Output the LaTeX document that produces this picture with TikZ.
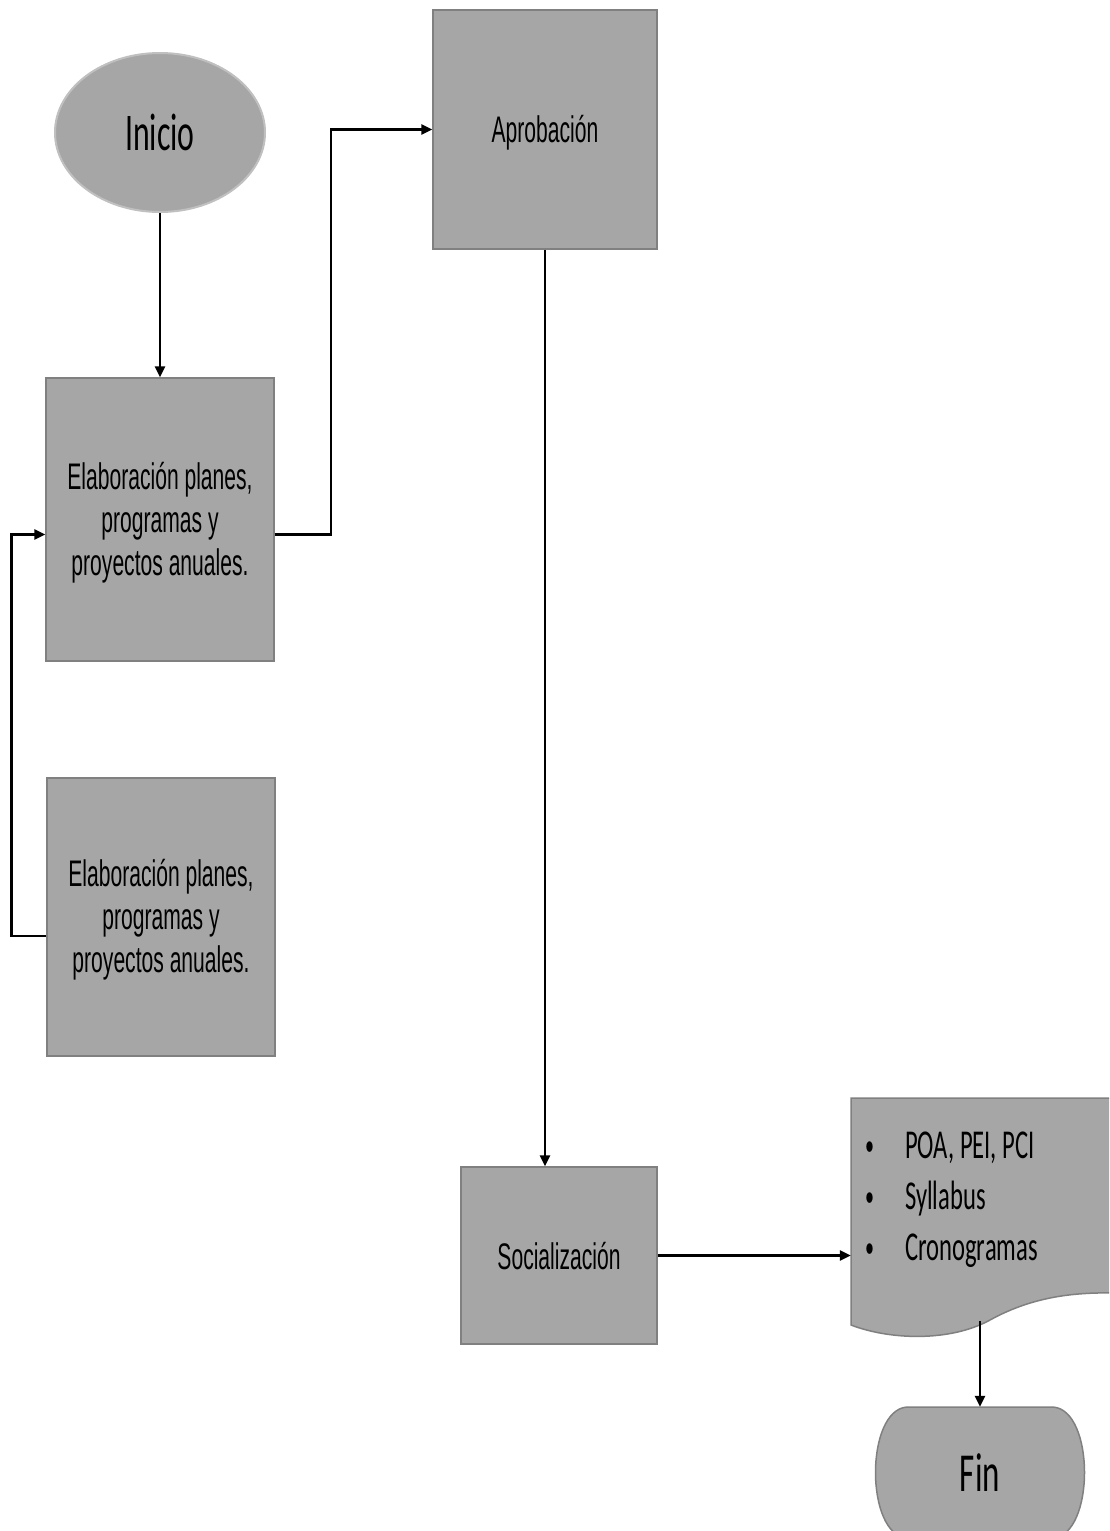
\documentclass[tikz,border=0pt]{standalone}
\usepackage{fontspec}
\usetikzlibrary{arrows.meta,shapes.geometric,calc}
\newfontfamily\boxfont[FakeStretch=0.57]{Liberation Sans}
\newfontfamily\calfont[FakeStretch=0.6]{Carlito}
\definecolor{boxfill}{RGB}{166,166,166}
\definecolor{boxline}{RGB}{128,128,128}
\definecolor{softline}{RGB}{192,192,192}
\begin{document}
\begin{tikzpicture}[x=1pt,y=-1pt,
  stepbox/.style={rectangle, draw=boxline, fill=boxfill, line width=1.5pt, inner sep=0pt},
  steptext/.style={inner sep=0pt, align=center, font=\boxfont\fontsize{37}{43}\selectfont},
  flow/.style={-{Triangle[length=11pt,width=10pt]}, line width=2.5pt, black},
  every node/.style={text=black}]
\fill[white] (0,0) rectangle (1109,1531);
\useasboundingbox (0,0) rectangle (1109,1531);
\clip (0,0) rectangle (1109,1531);

% start terminal
\node[ellipse, draw=softline, fill=boxfill, line width=2pt, inner sep=0pt,
  minimum width=210pt, minimum height=159pt,
  font=\calfont\fontsize{53}{60}\selectfont] (inicio) at (160,132.5) {Inicio};

% process steps
\node[stepbox, minimum width=224pt, minimum height=239pt] (aprob) at (545,129.5) {};
\node[stepbox, minimum width=228pt, minimum height=283pt] (elab1) at (160,519.5) {};
\node[stepbox, minimum width=228pt, minimum height=278pt] (elab2) at (161,917) {};
\node[stepbox, minimum width=196pt, minimum height=177pt] (social) at (559,1255.5) {};

\node[steptext] (aprobtxt) at ($(aprob.center)+(0,3)$) {Aprobación};
\node[steptext] (elab1txt) at ($(elab1.center)+(0,3)$)
  {Elaboración planes,\\ programas y\\ proyectos anuales.};
\node[steptext] (elab2txt) at ($(elab2.center)+(0,3)$)
  {Elaboración planes,\\ programas y\\ proyectos anuales.};
\node[steptext] (socialtxt) at ($(social.center)+(0,1)$) {Socialización};

% document shape with wavy bottom
\fill[boxfill] (851,1098) -- (1115,1098) -- (1115,1293) -- (1109,1293)
  .. controls (1070,1292) and (1030,1298) .. (990,1320)
  .. controls (950,1342) and (890,1340) .. (851,1325) -- cycle;
\draw[boxline, line width=1.5pt] (1115,1098) -- (851,1098) -- (851,1325)
  .. controls (890,1340) and (950,1342) .. (990,1320)
  .. controls (1030,1298) and (1070,1292) .. (1115,1293);
\node[minimum width=258pt, minimum height=227pt, inner sep=0pt] (doc) at (980,1211.5) {};
\coordinate (docbot) at (980,1321);
\begin{scope}[every node/.style={anchor=base west, inner sep=0pt, text=black,
    font=\calfont\fontsize{41}{51}\selectfont},
    bullet/.style={font=\calfont\fontsize{30}{51}\selectfont}]
  \node[bullet] (b1) at (865,1155) {•};
  \node (t1) at (905,1158) {POA, PEI, PCI};
  \node[bullet] (b2) at (865,1206) {•};
  \node (t2) at (905,1209) {Syllabus};
  \node[bullet] (b3) at (865,1257) {•};
  \node (t3) at (905,1260) {Cronogramas};
\end{scope}

% end terminal
\fill[boxfill, draw=boxline, line width=1.5pt] (907,1407) -- (1053,1407)
  .. controls (1095,1410) and (1095,1535) .. (1053,1538) -- (907,1538)
  .. controls (865,1535) and (865,1410) .. (907,1407) -- cycle;
\node[minimum width=210pt, minimum height=131pt, inner sep=0pt,
  font=\calfont\fontsize{55}{60}\selectfont] (fin) at (980,1472.5) {Fin};

% connectors
\draw[flow] (inicio.south) -- (elab1.north);
\draw[flow] ($(elab1.east)+(0,15)$) -- ++(56,0) |- (aprob.west);
\draw[flow] ($(elab2.west)+(0,19)$) -- ++(-35,0) |- ($(elab1.west)+(0,15)$);
\draw[flow] (aprob.south) -- (aprob.south |- social.north);
\draw[flow] (social.east) -- (social.east -| doc.west);
\draw[flow] (docbot) -- (fin.north);
\end{tikzpicture}
\end{document}
